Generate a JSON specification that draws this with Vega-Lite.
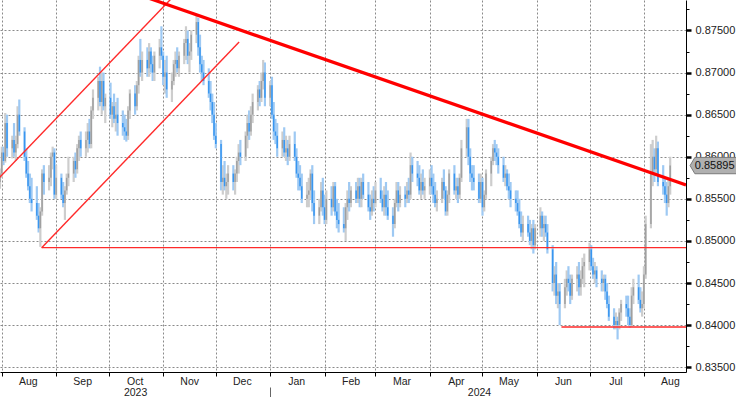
{
"$schema":"https://vega.github.io/schema/vega-lite/v6.json",
"width":686,"height":372,
"autosize":{"type":"none"},
"padding":{"left":0,"top":0,"right":50,"bottom":25},
"background":"white",
"config":{"view":{"stroke":null}},
"datasets":{
"px":[
{"d":"2023-07-31","o":0.8570,"h":0.8586,"l":0.8562,"c":0.8580},
{"d":"2023-08-01","o":0.8580,"h":0.8612,"l":0.8575,"c":0.8605},
{"d":"2023-08-02","o":0.8605,"h":0.8612,"l":0.8590,"c":0.8595},
{"d":"2023-08-03","o":0.8595,"h":0.8652,"l":0.8593,"c":0.8640},
{"d":"2023-08-04","o":0.8640,"h":0.8650,"l":0.8600,"c":0.8610},
{"d":"2023-08-07","o":0.8610,"h":0.8625,"l":0.8598,"c":0.8620},
{"d":"2023-08-08","o":0.8620,"h":0.8640,"l":0.8600,"c":0.8605},
{"d":"2023-08-09","o":0.8605,"h":0.8625,"l":0.8595,"c":0.8615},
{"d":"2023-08-10","o":0.8615,"h":0.8660,"l":0.8610,"c":0.8650},
{"d":"2023-08-11","o":0.8650,"h":0.8668,"l":0.8625,"c":0.8630},
{"d":"2023-08-14","o":0.8630,"h":0.8635,"l":0.8595,"c":0.8600},
{"d":"2023-08-15","o":0.8600,"h":0.8610,"l":0.8575,"c":0.8580},
{"d":"2023-08-16","o":0.8580,"h":0.8595,"l":0.8560,"c":0.8565},
{"d":"2023-08-17","o":0.8565,"h":0.8580,"l":0.8545,"c":0.8550},
{"d":"2023-08-18","o":0.8550,"h":0.8575,"l":0.8535,"c":0.8545},
{"d":"2023-08-21","o":0.8545,"h":0.8565,"l":0.8525,"c":0.8530},
{"d":"2023-08-22","o":0.8530,"h":0.8545,"l":0.8510,"c":0.8515},
{"d":"2023-08-23","o":0.8515,"h":0.8540,"l":0.8493,"c":0.8535},
{"d":"2023-08-24","o":0.8535,"h":0.8585,"l":0.8530,"c":0.8580},
{"d":"2023-08-25","o":0.8580,"h":0.8590,"l":0.8555,"c":0.8570},
{"d":"2023-08-28","o":0.8570,"h":0.8590,"l":0.8560,"c":0.8575},
{"d":"2023-08-29","o":0.8575,"h":0.8605,"l":0.8565,"c":0.8600},
{"d":"2023-08-30","o":0.8600,"h":0.8612,"l":0.8585,"c":0.8605},
{"d":"2023-08-31","o":0.8605,"h":0.8610,"l":0.8550,"c":0.8555},
{"d":"2023-09-01","o":0.8555,"h":0.8590,"l":0.8550,"c":0.8575},
{"d":"2023-09-04","o":0.8575,"h":0.8580,"l":0.8550,"c":0.8555},
{"d":"2023-09-05","o":0.8555,"h":0.8570,"l":0.8540,"c":0.8545},
{"d":"2023-09-06","o":0.8545,"h":0.8565,"l":0.8525,"c":0.8560},
{"d":"2023-09-07","o":0.8560,"h":0.8580,"l":0.8555,"c":0.8575},
{"d":"2023-09-08","o":0.8575,"h":0.8600,"l":0.8565,"c":0.8580},
{"d":"2023-09-11","o":0.8580,"h":0.8600,"l":0.8570,"c":0.8595},
{"d":"2023-09-12","o":0.8595,"h":0.8605,"l":0.8575,"c":0.8585},
{"d":"2023-09-13","o":0.8585,"h":0.8615,"l":0.8580,"c":0.8610},
{"d":"2023-09-14","o":0.8610,"h":0.8625,"l":0.8595,"c":0.8620},
{"d":"2023-09-15","o":0.8620,"h":0.8630,"l":0.8600,"c":0.8610},
{"d":"2023-09-18","o":0.8610,"h":0.8630,"l":0.8600,"c":0.8620},
{"d":"2023-09-19","o":0.8620,"h":0.8640,"l":0.8605,"c":0.8630},
{"d":"2023-09-20","o":0.8630,"h":0.8645,"l":0.8610,"c":0.8615},
{"d":"2023-09-21","o":0.8615,"h":0.8660,"l":0.8610,"c":0.8655},
{"d":"2023-09-22","o":0.8655,"h":0.8680,"l":0.8645,"c":0.8670},
{"d":"2023-09-25","o":0.8670,"h":0.8695,"l":0.8655,"c":0.8690},
{"d":"2023-09-26","o":0.8690,"h":0.8707,"l":0.8660,"c":0.8665},
{"d":"2023-09-27","o":0.8665,"h":0.8700,"l":0.8650,"c":0.8690},
{"d":"2023-09-28","o":0.8690,"h":0.8700,"l":0.8655,"c":0.8660},
{"d":"2023-09-29","o":0.8660,"h":0.8675,"l":0.8640,"c":0.8670},
{"d":"2023-10-02","o":0.8670,"h":0.8688,"l":0.8645,"c":0.8650},
{"d":"2023-10-03","o":0.8650,"h":0.8665,"l":0.8635,"c":0.8660},
{"d":"2023-10-04","o":0.8660,"h":0.8675,"l":0.8640,"c":0.8645},
{"d":"2023-10-05","o":0.8645,"h":0.8665,"l":0.8630,"c":0.8650},
{"d":"2023-10-06","o":0.8650,"h":0.8670,"l":0.8625,"c":0.8640},
{"d":"2023-10-09","o":0.8640,"h":0.8655,"l":0.8625,"c":0.8635},
{"d":"2023-10-10","o":0.8635,"h":0.8650,"l":0.8620,"c":0.8630},
{"d":"2023-10-11","o":0.8630,"h":0.8645,"l":0.8618,"c":0.8625},
{"d":"2023-10-12","o":0.8625,"h":0.8660,"l":0.8620,"c":0.8655},
{"d":"2023-10-13","o":0.8655,"h":0.8680,"l":0.8645,"c":0.8675},
{"d":"2023-10-16","o":0.8675,"h":0.8685,"l":0.8650,"c":0.8660},
{"d":"2023-10-17","o":0.8660,"h":0.8690,"l":0.8655,"c":0.8685},
{"d":"2023-10-18","o":0.8685,"h":0.8720,"l":0.8675,"c":0.8715},
{"d":"2023-10-19","o":0.8715,"h":0.8740,"l":0.8695,"c":0.8700},
{"d":"2023-10-20","o":0.8700,"h":0.8725,"l":0.8690,"c":0.8715},
{"d":"2023-10-23","o":0.8715,"h":0.8730,"l":0.8695,"c":0.8705},
{"d":"2023-10-24","o":0.8705,"h":0.8735,"l":0.8695,"c":0.8725},
{"d":"2023-10-25","o":0.8725,"h":0.8730,"l":0.8700,"c":0.8710},
{"d":"2023-10-26","o":0.8710,"h":0.8720,"l":0.8690,"c":0.8700},
{"d":"2023-10-27","o":0.8700,"h":0.8725,"l":0.8690,"c":0.8720},
{"d":"2023-10-30","o":0.8720,"h":0.8740,"l":0.8705,"c":0.8730},
{"d":"2023-10-31","o":0.8730,"h":0.8755,"l":0.8715,"c":0.8720},
{"d":"2023-11-01","o":0.8720,"h":0.8725,"l":0.8685,"c":0.8695},
{"d":"2023-11-02","o":0.8695,"h":0.8715,"l":0.8675,"c":0.8700},
{"d":"2023-11-03","o":0.8700,"h":0.8720,"l":0.8670,"c":0.8680},
{"d":"2023-11-06","o":0.8680,"h":0.8700,"l":0.8665,"c":0.8690},
{"d":"2023-11-07","o":0.8690,"h":0.8715,"l":0.8685,"c":0.8710},
{"d":"2023-11-08","o":0.8710,"h":0.8725,"l":0.8695,"c":0.8715},
{"d":"2023-11-09","o":0.8715,"h":0.8730,"l":0.8700,"c":0.8705},
{"d":"2023-11-10","o":0.8705,"h":0.8725,"l":0.8695,"c":0.8720},
{"d":"2023-11-13","o":0.8720,"h":0.8740,"l":0.8710,"c":0.8735},
{"d":"2023-11-14","o":0.8735,"h":0.8755,"l":0.8715,"c":0.8740},
{"d":"2023-11-15","o":0.8740,"h":0.8750,"l":0.8710,"c":0.8720},
{"d":"2023-11-16","o":0.8720,"h":0.8735,"l":0.8700,"c":0.8725},
{"d":"2023-11-17","o":0.8725,"h":0.8750,"l":0.8715,"c":0.8745},
{"d":"2023-11-20","o":0.8745,"h":0.8768,"l":0.8735,"c":0.8760},
{"d":"2023-11-21","o":0.8760,"h":0.8765,"l":0.8720,"c":0.8730},
{"d":"2023-11-22","o":0.8730,"h":0.8745,"l":0.8700,"c":0.8710},
{"d":"2023-11-23","o":0.8710,"h":0.8720,"l":0.8690,"c":0.8700},
{"d":"2023-11-24","o":0.8700,"h":0.8715,"l":0.8685,"c":0.8690},
{"d":"2023-11-27","o":0.8690,"h":0.8705,"l":0.8670,"c":0.8675},
{"d":"2023-11-28","o":0.8675,"h":0.8690,"l":0.8655,"c":0.8665},
{"d":"2023-11-29","o":0.8665,"h":0.8675,"l":0.8640,"c":0.8650},
{"d":"2023-11-30","o":0.8650,"h":0.8665,"l":0.8620,"c":0.8625},
{"d":"2023-12-01","o":0.8625,"h":0.8640,"l":0.8610,"c":0.8615},
{"d":"2023-12-04","o":0.8615,"h":0.8620,"l":0.8560,"c":0.8570},
{"d":"2023-12-05","o":0.8570,"h":0.8590,"l":0.8555,"c":0.8575},
{"d":"2023-12-06","o":0.8575,"h":0.8595,"l":0.8560,"c":0.8565},
{"d":"2023-12-07","o":0.8565,"h":0.8580,"l":0.8550,"c":0.8570},
{"d":"2023-12-08","o":0.8570,"h":0.8590,"l":0.8555,"c":0.8580},
{"d":"2023-12-11","o":0.8580,"h":0.8590,"l":0.8560,"c":0.8570},
{"d":"2023-12-12","o":0.8570,"h":0.8585,"l":0.8555,"c":0.8580},
{"d":"2023-12-13","o":0.8580,"h":0.8600,"l":0.8570,"c":0.8595},
{"d":"2023-12-14","o":0.8595,"h":0.8615,"l":0.8580,"c":0.8605},
{"d":"2023-12-15","o":0.8605,"h":0.8620,"l":0.8590,"c":0.8600},
{"d":"2023-12-18","o":0.8600,"h":0.8630,"l":0.8595,"c":0.8625},
{"d":"2023-12-19","o":0.8625,"h":0.8650,"l":0.8610,"c":0.8640},
{"d":"2023-12-20","o":0.8640,"h":0.8655,"l":0.8620,"c":0.8630},
{"d":"2023-12-21","o":0.8630,"h":0.8660,"l":0.8625,"c":0.8650},
{"d":"2023-12-22","o":0.8650,"h":0.8675,"l":0.8640,"c":0.8665},
{"d":"2023-12-25","o":0.8665,"h":0.8685,"l":0.8655,"c":0.8680},
{"d":"2023-12-26","o":0.8680,"h":0.8690,"l":0.8660,"c":0.8670},
{"d":"2023-12-27","o":0.8670,"h":0.8700,"l":0.8665,"c":0.8690},
{"d":"2023-12-28","o":0.8690,"h":0.8715,"l":0.8680,"c":0.8700},
{"d":"2023-12-29","o":0.8700,"h":0.8712,"l":0.8660,"c":0.8670},
{"d":"2024-01-01","o":0.8670,"h":0.8690,"l":0.8660,"c":0.8685},
{"d":"2024-01-02","o":0.8685,"h":0.8695,"l":0.8645,"c":0.8650},
{"d":"2024-01-03","o":0.8650,"h":0.8665,"l":0.8620,"c":0.8630},
{"d":"2024-01-04","o":0.8630,"h":0.8645,"l":0.8615,"c":0.8625},
{"d":"2024-01-05","o":0.8625,"h":0.8640,"l":0.8600,"c":0.8610},
{"d":"2024-01-08","o":0.8610,"h":0.8630,"l":0.8600,"c":0.8620},
{"d":"2024-01-09","o":0.8620,"h":0.8635,"l":0.8600,"c":0.8605},
{"d":"2024-01-10","o":0.8605,"h":0.8625,"l":0.8595,"c":0.8610},
{"d":"2024-01-11","o":0.8610,"h":0.8620,"l":0.8590,"c":0.8600},
{"d":"2024-01-12","o":0.8600,"h":0.8625,"l":0.8595,"c":0.8615},
{"d":"2024-01-15","o":0.8615,"h":0.8630,"l":0.8595,"c":0.8600},
{"d":"2024-01-16","o":0.8600,"h":0.8610,"l":0.8575,"c":0.8580},
{"d":"2024-01-17","o":0.8580,"h":0.8595,"l":0.8560,"c":0.8575},
{"d":"2024-01-18","o":0.8575,"h":0.8590,"l":0.8560,"c":0.8565},
{"d":"2024-01-19","o":0.8565,"h":0.8580,"l":0.8545,"c":0.8550},
{"d":"2024-01-22","o":0.8550,"h":0.8570,"l":0.8540,"c":0.8555},
{"d":"2024-01-23","o":0.8555,"h":0.8575,"l":0.8540,"c":0.8560},
{"d":"2024-01-24","o":0.8560,"h":0.8585,"l":0.8550,"c":0.8580},
{"d":"2024-01-25","o":0.8580,"h":0.8590,"l":0.8535,"c":0.8545},
{"d":"2024-01-26","o":0.8545,"h":0.8560,"l":0.8520,"c":0.8530},
{"d":"2024-01-29","o":0.8530,"h":0.8550,"l":0.8520,"c":0.8540},
{"d":"2024-01-30","o":0.8540,"h":0.8570,"l":0.8535,"c":0.8560},
{"d":"2024-01-31","o":0.8560,"h":0.8575,"l":0.8530,"c":0.8540},
{"d":"2024-02-01","o":0.8540,"h":0.8555,"l":0.8520,"c":0.8525},
{"d":"2024-02-02","o":0.8525,"h":0.8560,"l":0.8520,"c":0.8550},
{"d":"2024-02-05","o":0.8550,"h":0.8565,"l":0.8530,"c":0.8540},
{"d":"2024-02-06","o":0.8540,"h":0.8570,"l":0.8535,"c":0.8565},
{"d":"2024-02-07","o":0.8565,"h":0.8570,"l":0.8530,"c":0.8535},
{"d":"2024-02-08","o":0.8535,"h":0.8550,"l":0.8515,"c":0.8525},
{"d":"2024-02-09","o":0.8525,"h":0.8545,"l":0.8510,"c":0.8520},
{"d":"2024-02-12","o":0.8520,"h":0.8540,"l":0.8510,"c":0.8515},
{"d":"2024-02-13","o":0.8515,"h":0.8545,"l":0.8500,"c":0.8540},
{"d":"2024-02-14","o":0.8540,"h":0.8560,"l":0.8525,"c":0.8550},
{"d":"2024-02-15","o":0.8550,"h":0.8570,"l":0.8535,"c":0.8545},
{"d":"2024-02-16","o":0.8545,"h":0.8565,"l":0.8540,"c":0.8560},
{"d":"2024-02-19","o":0.8560,"h":0.8570,"l":0.8545,"c":0.8550},
{"d":"2024-02-20","o":0.8550,"h":0.8575,"l":0.8545,"c":0.8565},
{"d":"2024-02-21","o":0.8565,"h":0.8575,"l":0.8540,"c":0.8550},
{"d":"2024-02-22","o":0.8550,"h":0.8575,"l":0.8540,"c":0.8570},
{"d":"2024-02-23","o":0.8570,"h":0.8580,"l":0.8550,"c":0.8555},
{"d":"2024-02-26","o":0.8555,"h":0.8570,"l":0.8535,"c":0.8540},
{"d":"2024-02-27","o":0.8540,"h":0.8555,"l":0.8525,"c":0.8535},
{"d":"2024-02-28","o":0.8535,"h":0.8560,"l":0.8530,"c":0.8550},
{"d":"2024-02-29","o":0.8550,"h":0.8565,"l":0.8535,"c":0.8545},
{"d":"2024-03-01","o":0.8545,"h":0.8570,"l":0.8540,"c":0.8560},
{"d":"2024-03-04","o":0.8560,"h":0.8575,"l":0.8545,"c":0.8550},
{"d":"2024-03-05","o":0.8550,"h":0.8560,"l":0.8535,"c":0.8540},
{"d":"2024-03-06","o":0.8540,"h":0.8565,"l":0.8530,"c":0.8555},
{"d":"2024-03-07","o":0.8555,"h":0.8570,"l":0.8530,"c":0.8540},
{"d":"2024-03-08","o":0.8540,"h":0.8560,"l":0.8525,"c":0.8530},
{"d":"2024-03-11","o":0.8530,"h":0.8540,"l":0.8505,"c":0.8520},
{"d":"2024-03-12","o":0.8520,"h":0.8550,"l":0.8515,"c":0.8545},
{"d":"2024-03-13","o":0.8545,"h":0.8570,"l":0.8540,"c":0.8560},
{"d":"2024-03-14","o":0.8560,"h":0.8570,"l":0.8535,"c":0.8545},
{"d":"2024-03-15","o":0.8545,"h":0.8565,"l":0.8540,"c":0.8555},
{"d":"2024-03-18","o":0.8555,"h":0.8565,"l":0.8540,"c":0.8550},
{"d":"2024-03-19","o":0.8550,"h":0.8570,"l":0.8545,"c":0.8560},
{"d":"2024-03-20","o":0.8560,"h":0.8575,"l":0.8545,"c":0.8555},
{"d":"2024-03-21","o":0.8555,"h":0.8605,"l":0.8550,"c":0.8590},
{"d":"2024-03-22","o":0.8590,"h":0.8600,"l":0.8570,"c":0.8580},
{"d":"2024-03-25","o":0.8580,"h":0.8595,"l":0.8565,"c":0.8575},
{"d":"2024-03-26","o":0.8575,"h":0.8590,"l":0.8555,"c":0.8560},
{"d":"2024-03-27","o":0.8560,"h":0.8580,"l":0.8550,"c":0.8570},
{"d":"2024-03-28","o":0.8570,"h":0.8585,"l":0.8555,"c":0.8560},
{"d":"2024-03-29","o":0.8560,"h":0.8575,"l":0.8550,"c":0.8565},
{"d":"2024-04-01","o":0.8565,"h":0.8585,"l":0.8555,"c":0.8575},
{"d":"2024-04-02","o":0.8575,"h":0.8590,"l":0.8555,"c":0.8565},
{"d":"2024-04-03","o":0.8565,"h":0.8580,"l":0.8545,"c":0.8555},
{"d":"2024-04-04","o":0.8555,"h":0.8570,"l":0.8540,"c":0.8545},
{"d":"2024-04-05","o":0.8545,"h":0.8560,"l":0.8535,"c":0.8550},
{"d":"2024-04-08","o":0.8550,"h":0.8575,"l":0.8545,"c":0.8570},
{"d":"2024-04-09","o":0.8570,"h":0.8585,"l":0.8550,"c":0.8560},
{"d":"2024-04-10","o":0.8560,"h":0.8565,"l":0.8530,"c":0.8535},
{"d":"2024-04-11","o":0.8535,"h":0.8560,"l":0.8530,"c":0.8555},
{"d":"2024-04-12","o":0.8555,"h":0.8585,"l":0.8545,"c":0.8580},
{"d":"2024-04-15","o":0.8580,"h":0.8590,"l":0.8555,"c":0.8560},
{"d":"2024-04-16","o":0.8560,"h":0.8575,"l":0.8550,"c":0.8565},
{"d":"2024-04-17","o":0.8565,"h":0.8575,"l":0.8545,"c":0.8555},
{"d":"2024-04-18","o":0.8555,"h":0.8580,"l":0.8550,"c":0.8575},
{"d":"2024-04-19","o":0.8575,"h":0.8620,"l":0.8570,"c":0.8610},
{"d":"2024-04-22","o":0.8610,"h":0.8645,"l":0.8600,"c":0.8635},
{"d":"2024-04-23","o":0.8635,"h":0.8645,"l":0.8590,"c":0.8600},
{"d":"2024-04-24","o":0.8600,"h":0.8610,"l":0.8570,"c":0.8580},
{"d":"2024-04-25","o":0.8580,"h":0.8590,"l":0.8560,"c":0.8575},
{"d":"2024-04-26","o":0.8575,"h":0.8590,"l":0.8560,"c":0.8570},
{"d":"2024-04-29","o":0.8570,"h":0.8580,"l":0.8545,"c":0.8550},
{"d":"2024-04-30","o":0.8550,"h":0.8580,"l":0.8545,"c":0.8570},
{"d":"2024-05-01","o":0.8570,"h":0.8575,"l":0.8530,"c":0.8540},
{"d":"2024-05-02","o":0.8540,"h":0.8560,"l":0.8535,"c":0.8555},
{"d":"2024-05-03","o":0.8555,"h":0.8585,"l":0.8550,"c":0.8580},
{"d":"2024-05-06","o":0.8580,"h":0.8600,"l":0.8565,"c":0.8595},
{"d":"2024-05-07","o":0.8595,"h":0.8615,"l":0.8590,"c":0.8610},
{"d":"2024-05-08","o":0.8610,"h":0.8620,"l":0.8595,"c":0.8605},
{"d":"2024-05-09","o":0.8605,"h":0.8615,"l":0.8590,"c":0.8600},
{"d":"2024-05-10","o":0.8600,"h":0.8610,"l":0.8580,"c":0.8590},
{"d":"2024-05-13","o":0.8590,"h":0.8600,"l":0.8570,"c":0.8575},
{"d":"2024-05-14","o":0.8575,"h":0.8590,"l":0.8565,"c":0.8580},
{"d":"2024-05-15","o":0.8580,"h":0.8585,"l":0.8560,"c":0.8565},
{"d":"2024-05-16","o":0.8565,"h":0.8580,"l":0.8550,"c":0.8560},
{"d":"2024-05-17","o":0.8560,"h":0.8570,"l":0.8540,"c":0.8550},
{"d":"2024-05-20","o":0.8550,"h":0.8560,"l":0.8535,"c":0.8545},
{"d":"2024-05-21","o":0.8545,"h":0.8560,"l":0.8530,"c":0.8535},
{"d":"2024-05-22","o":0.8535,"h":0.8550,"l":0.8515,"c":0.8520},
{"d":"2024-05-23","o":0.8520,"h":0.8535,"l":0.8505,"c":0.8510},
{"d":"2024-05-24","o":0.8510,"h":0.8530,"l":0.8500,"c":0.8520},
{"d":"2024-05-27","o":0.8520,"h":0.8530,"l":0.8505,"c":0.8510},
{"d":"2024-05-28","o":0.8510,"h":0.8525,"l":0.8495,"c":0.8500},
{"d":"2024-05-29","o":0.8500,"h":0.8520,"l":0.8490,"c":0.8515},
{"d":"2024-05-30","o":0.8515,"h":0.8525,"l":0.8485,"c":0.8495},
{"d":"2024-05-31","o":0.8495,"h":0.8520,"l":0.8490,"c":0.8515},
{"d":"2024-06-03","o":0.8515,"h":0.8540,"l":0.8505,"c":0.8530},
{"d":"2024-06-04","o":0.8530,"h":0.8535,"l":0.8505,"c":0.8515},
{"d":"2024-06-05","o":0.8515,"h":0.8530,"l":0.8500,"c":0.8520},
{"d":"2024-06-06","o":0.8520,"h":0.8530,"l":0.8505,"c":0.8510},
{"d":"2024-06-07","o":0.8510,"h":0.8520,"l":0.8485,"c":0.8490},
{"d":"2024-06-10","o":0.8490,"h":0.8495,"l":0.8440,"c":0.8450},
{"d":"2024-06-11","o":0.8450,"h":0.8470,"l":0.8435,"c":0.8460},
{"d":"2024-06-12","o":0.8460,"h":0.8475,"l":0.8425,"c":0.8435},
{"d":"2024-06-13","o":0.8435,"h":0.8450,"l":0.8420,"c":0.8440},
{"d":"2024-06-14","o":0.8440,"h":0.8450,"l":0.8400,"c":0.8425},
{"d":"2024-06-17","o":0.8425,"h":0.8455,"l":0.8420,"c":0.8445},
{"d":"2024-06-18","o":0.8445,"h":0.8465,"l":0.8435,"c":0.8455},
{"d":"2024-06-19","o":0.8455,"h":0.8470,"l":0.8440,"c":0.8450},
{"d":"2024-06-20","o":0.8450,"h":0.8460,"l":0.8425,"c":0.8435},
{"d":"2024-06-21","o":0.8435,"h":0.8460,"l":0.8430,"c":0.8455},
{"d":"2024-06-24","o":0.8455,"h":0.8470,"l":0.8440,"c":0.8460},
{"d":"2024-06-25","o":0.8460,"h":0.8475,"l":0.8435,"c":0.8445},
{"d":"2024-06-26","o":0.8445,"h":0.8465,"l":0.8435,"c":0.8455},
{"d":"2024-06-27","o":0.8455,"h":0.8480,"l":0.8450,"c":0.8470},
{"d":"2024-06-28","o":0.8470,"h":0.8485,"l":0.8445,"c":0.8475},
{"d":"2024-07-01","o":0.8475,"h":0.8498,"l":0.8465,"c":0.8490},
{"d":"2024-07-02","o":0.8490,"h":0.8495,"l":0.8465,"c":0.8470},
{"d":"2024-07-03","o":0.8470,"h":0.8480,"l":0.8455,"c":0.8460},
{"d":"2024-07-04","o":0.8460,"h":0.8475,"l":0.8450,"c":0.8465},
{"d":"2024-07-05","o":0.8465,"h":0.8470,"l":0.8445,"c":0.8455},
{"d":"2024-07-08","o":0.8455,"h":0.8465,"l":0.8440,"c":0.8450},
{"d":"2024-07-09","o":0.8450,"h":0.8460,"l":0.8440,"c":0.8455},
{"d":"2024-07-10","o":0.8455,"h":0.8460,"l":0.8430,"c":0.8440},
{"d":"2024-07-11","o":0.8440,"h":0.8450,"l":0.8420,"c":0.8425},
{"d":"2024-07-12","o":0.8425,"h":0.8435,"l":0.8405,"c":0.8410},
{"d":"2024-07-15","o":0.8410,"h":0.8420,"l":0.8395,"c":0.8400},
{"d":"2024-07-16","o":0.8400,"h":0.8415,"l":0.8395,"c":0.8405},
{"d":"2024-07-17","o":0.8405,"h":0.8410,"l":0.8383,"c":0.8400},
{"d":"2024-07-18","o":0.8400,"h":0.8420,"l":0.8395,"c":0.8415},
{"d":"2024-07-19","o":0.8415,"h":0.8430,"l":0.8405,"c":0.8425},
{"d":"2024-07-22","o":0.8425,"h":0.8435,"l":0.8410,"c":0.8420},
{"d":"2024-07-23","o":0.8420,"h":0.8435,"l":0.8400,"c":0.8410},
{"d":"2024-07-24","o":0.8410,"h":0.8420,"l":0.8397,"c":0.8400},
{"d":"2024-07-25","o":0.8400,"h":0.8445,"l":0.8398,"c":0.8435},
{"d":"2024-07-26","o":0.8435,"h":0.8455,"l":0.8425,"c":0.8445},
{"d":"2024-07-29","o":0.8445,"h":0.8460,"l":0.8425,"c":0.8430},
{"d":"2024-07-30","o":0.8430,"h":0.8445,"l":0.8415,"c":0.8420},
{"d":"2024-07-31","o":0.8420,"h":0.8440,"l":0.8410,"c":0.8425},
{"d":"2024-08-01","o":0.8425,"h":0.8470,"l":0.8420,"c":0.8460},
{"d":"2024-08-02","o":0.8460,"h":0.8530,"l":0.8455,"c":0.8520},
{"d":"2024-08-05","o":0.8520,"h":0.8615,"l":0.8515,"c":0.8580},
{"d":"2024-08-06","o":0.8580,"h":0.8620,"l":0.8565,"c":0.8600},
{"d":"2024-08-07","o":0.8600,"h":0.8610,"l":0.8570,"c":0.8585},
{"d":"2024-08-08","o":0.8585,"h":0.8625,"l":0.8580,"c":0.8610},
{"d":"2024-08-09","o":0.8610,"h":0.8618,"l":0.8565,"c":0.8570},
{"d":"2024-08-12","o":0.8570,"h":0.8590,"l":0.8555,"c":0.8565},
{"d":"2024-08-13","o":0.8565,"h":0.8575,"l":0.8545,"c":0.8555},
{"d":"2024-08-14","o":0.8555,"h":0.8570,"l":0.8530,"c":0.8545},
{"d":"2024-08-15","o":0.8545,"h":0.8575,"l":0.8540,"c":0.8565},
{"d":"2024-08-16","o":0.8565,"h":0.8600,"l":0.8555,"c":0.85895}
],
"guides":[
{"id":"up","d":"2023-07-25T00:00","p":0.8563},
{"id":"up","d":"2023-11-08T00:00","p":0.8793},
{"id":"lo","d":"2023-08-23T18:00","p":0.8492},
{"id":"lo","d":"2023-12-14T07:00","p":0.87362},
{"id":"s1","d":"2023-08-23T18:00","p":0.8492},
{"id":"s1","d":"2024-08-25T00:00","p":0.8492},
{"id":"s2","d":"2024-06-15T00:00","p":0.83978},
{"id":"s2","d":"2024-08-25T00:00","p":0.83978}
],
"trend":[
{"d":"2023-09-26T00:00","p":0.88085},
{"d":"2024-08-25T00:00","p":0.85665}
],
"last":[{"p":0.85895}]
},
"resolve":{"axis":{"x":"independent","y":"independent"}},
"layer":[
{
"data":{"name":"px"},
"mark":{"type":"rule","strokeWidth":2.2,"clip":true},
"encoding":{
"x":{"field":"d","type":"temporal",
 "scale":{"domain":[{"year":2023,"month":7,"date":31},{"year":2024,"month":8,"date":25}],"nice":false},
 "axis":{"orient":"bottom","title":null,
  "values":[{"year":2023,"month":8,"date":1},{"year":2023,"month":9,"date":1},{"year":2023,"month":10,"date":1},{"year":2023,"month":11,"date":1},{"year":2023,"month":12,"date":1},{"year":2024,"month":1,"date":1},{"year":2024,"month":2,"date":1},{"year":2024,"month":3,"date":1},{"year":2024,"month":4,"date":1},{"year":2024,"month":5,"date":1},{"year":2024,"month":6,"date":1},{"year":2024,"month":7,"date":1},{"year":2024,"month":8,"date":1}],
  "format":"%b","labelOffset":26,"labelFlush":false,"labelOverlap":false,
  "grid":true,"gridDash":[2,2],"gridColor":"#8a8a8a","gridWidth":1,
  "tickSize":4,"tickColor":"#000","domainColor":"#000",
  "labelFont":"Liberation Sans","labelFontSize":10.5,"labelColor":"#222","labelPadding":0}},
"y":{"field":"l","type":"quantitative",
 "scale":{"domain":[0.83443,0.87862],"nice":false,"zero":false},
 "axis":{"orient":"right","title":null,
  "values":[0.835,0.84,0.845,0.85,0.855,0.86,0.865,0.87,0.875],
  "format":".5f","grid":true,"gridDash":[2,2],"gridColor":"#8a8a8a","gridWidth":1,
  "domainColor":"#000","tickColor":"#000","tickSize":5,"tickWidth":2.5,
  "labelFont":"Liberation Sans","labelFontSize":11,"labelColor":"#222","labelPadding":4}},
"y2":{"field":"h"},
"color":{"condition":{"test":"datum.c < datum.o","value":"#9ec9f3"},"value":"#cdcdcd"}
}
},
{
"data":{"name":"px"},
"mark":{"type":"rule","strokeWidth":1.5,"clip":true},
"encoding":{
"x":{"field":"d","type":"temporal",
 "scale":{"domain":[{"year":2023,"month":7,"date":31},{"year":2024,"month":8,"date":25}],"nice":false},
 "axis":{"orient":"bottom","title":null,
  "values":[{"year":2023,"month":10,"date":16},{"year":2024,"month":4,"date":29}],
  "format":"%Y","ticks":false,"tickSize":0,"domain":false,"grid":false,"labelOverlap":false,"labelFlush":false,
  "labelFont":"Liberation Sans","labelFontSize":10.5,"labelColor":"#222","labelPadding":15}},
"y":{"field":"o","type":"quantitative",
 "scale":{"domain":[0.83443,0.87862],"nice":false,"zero":false},"axis":null},
"y2":{"field":"c"},
"color":{"condition":{"test":"datum.c < datum.o","value":"#3896f0"},"value":"#a0a0a0"}
}
},
{
"data":{"name":"guides"},
"mark":{"type":"line","strokeWidth":1.4,"color":"#ff2a2a","clip":true},
"encoding":{
"x":{"field":"d","type":"temporal",
 "scale":{"domain":[{"year":2023,"month":7,"date":31},{"year":2024,"month":8,"date":25}],"nice":false},
 "axis":{"orient":"bottom","title":null,"values":[{"year":2024,"month":1,"date":1}],
  "labels":false,"domain":false,"grid":false,"tickSize":11,"offset":15,"tickColor":"#666"}},
"y":{"field":"p","type":"quantitative",
 "scale":{"domain":[0.83443,0.87862],"nice":false,"zero":false},
 "axis":{"orient":"right","title":null,
  "values":[0.8375,0.8425,0.8475,0.8525,0.8575,0.8625,0.8675,0.8725,0.8775],
  "labels":false,"domain":false,"grid":false,"tickSize":3,"tickColor":"#000"}},
"detail":{"field":"id"}
}
},
{
"data":{"name":"trend"},
"mark":{"type":"line","strokeWidth":3.2,"color":"#ff0000","clip":true},
"encoding":{
"x":{"field":"d","type":"temporal",
 "scale":{"domain":[{"year":2023,"month":7,"date":31},{"year":2024,"month":8,"date":25}],"nice":false},"axis":null},
"y":{"field":"p","type":"quantitative",
 "scale":{"domain":[0.83443,0.87862],"nice":false,"zero":false},"axis":null}
}
},
{
"data":{"name":"last"},
"mark":{"type":"point","filled":true,"fill":"#b0b0b0","stroke":"#7a7a7a","strokeWidth":1,"opacity":1,"size":2304,
 "shape":"M-1,0 L-0.8,-0.34 L1,-0.34 L1,0.34 L-0.8,0.34 Z"},
"encoding":{
"x":{"datum":{"year":2024,"month":9,"date":10},"type":"temporal",
 "scale":{"domain":[{"year":2023,"month":7,"date":31},{"year":2024,"month":8,"date":25}],"nice":false},"axis":null},
"y":{"field":"p","type":"quantitative",
 "scale":{"domain":[0.83443,0.87862],"nice":false,"zero":false},"axis":null}
}
},
{
"data":{"name":"last"},
"mark":{"type":"text","align":"left","baseline":"middle","font":"Liberation Sans","fontSize":11,"color":"#111"},
"encoding":{
"x":{"datum":{"year":2024,"month":8,"date":30},"type":"temporal",
 "scale":{"domain":[{"year":2023,"month":7,"date":31},{"year":2024,"month":8,"date":25}],"nice":false},"axis":null},
"y":{"field":"p","type":"quantitative",
 "scale":{"domain":[0.83443,0.87862],"nice":false,"zero":false},"axis":null},
"text":{"field":"p","type":"quantitative","format":".5f"}
}
}
]
}
